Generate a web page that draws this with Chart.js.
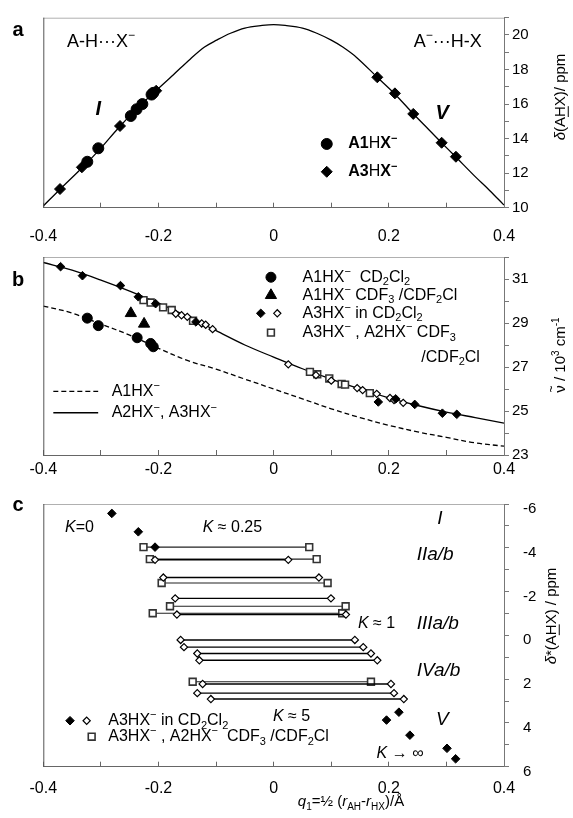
<!DOCTYPE html>
<html>
<head>
<meta charset="utf-8">
<script src="https://cdn.jsdelivr.net/npm/chart.js@4.4.1/dist/chart.umd.min.js"></script>
<style>
  body { margin: 0; background: #fff; width: 573px; height: 818px; position: relative; overflow: hidden; }
  canvas { position: absolute; left: 0; }
</style>
</head>
<body>
<canvas id="pa" width="573" height="250" style="top:0px"></canvas>
<canvas id="pb" width="573" height="235" style="top:245px"></canvas>
<canvas id="pc" width="573" height="338" style="top:480px"></canvas>
<script>
// ---- panel a : delta(AHX) vs q1 ----
const aCurveQ = [-0.4, -0.37, -0.33, -0.3, -0.27, -0.24, -0.21, -0.174, -0.145, -0.12, -0.099, -0.075, -0.05, -0.02, 0, 0.02, 0.05, 0.075, 0.1, 0.12, 0.144, 0.18, 0.21, 0.242, 0.27, 0.292, 0.316, 0.35, 0.375, 0.4];
const aCurveD = [10.1, 11.1, 12.4, 13.45, 14.6, 15.65, 16.6, 17.7, 18.6, 19.3, 19.7, 20.1, 20.4, 20.55, 20.6, 20.55, 20.4, 20.1, 19.7, 19.3, 18.7, 17.55, 16.6, 15.45, 14.5, 13.75, 12.95, 11.8, 11.0, 10.15];
const aA1Q = [-0.3236, -0.3045, -0.248, -0.238, -0.228, -0.212, -0.209];
const aA1D = [12.66, 13.44, 15.31, 15.70, 16.0, 16.55, 16.65];
const aA3Q = [-0.371, -0.333, -0.2668, -0.204, 0.180, 0.2106, 0.2424, 0.2917, 0.3165];
const aA3D = [11.08, 12.34, 14.73, 16.77, 17.55, 16.62, 15.43, 13.76, 12.95];

// ---- panel b : wavenumber vs q1 ----
const bCurveQ = [-0.4, -0.35, -0.3, -0.25, -0.2, -0.15, -0.1, -0.05, 0, 0.05, 0.1, 0.15, 0.2, 0.25, 0.3, 0.35, 0.4];
const bSolidV = [31.75, 31.4, 30.95, 30.45, 29.9, 29.3, 28.65, 28.0, 27.45, 26.92, 26.45, 26.0, 25.6, 25.25, 24.95, 24.7, 24.45];
const bDashV = [29.77, 29.45, 28.95, 28.45, 27.85, 27.3, 26.9, 26.45, 26.0, 25.55, 25.1, 24.7, 24.35, 24.05, 23.8, 23.55, 23.4];
const bA1CdQ = [-0.3236, -0.3045, -0.237, -0.2136, -0.209];
const bA1CdV = [29.22, 28.88, 28.33, 28.07, 27.92];
const bA1FrQ = [-0.248, -0.225];
const bA1FrV = [29.44, 28.96];
const bA3FillQ = [-0.37, -0.332, -0.266, -0.235, -0.205, -0.135, 0.1817, 0.212, 0.245, 0.293, 0.318];
const bA3FillV = [31.56, 31.15, 30.70, 30.19, 29.88, 29.05, 25.41, 25.55, 25.30, 24.90, 24.85];
const bA3OpenQ = [-0.17, -0.16, -0.15, -0.125, -0.118, -0.106, 0.0254, 0.0735, 0.1, 0.145, 0.1545, 0.179, 0.202, 0.209, 0.225];
const bA3OpenV = [29.42, 29.35, 29.28, 28.98, 28.92, 28.72, 27.12, 26.63, 26.38, 26.04, 25.95, 25.78, 25.59, 25.50, 25.37];
const bSqQ = [-0.226, -0.2136, -0.192, -0.177, -0.14, 0.063, 0.0757, 0.0966, 0.118, 0.124, 0.167];
const bSqV = [30.04, 29.93, 29.71, 29.59, 29.10, 26.78, 26.67, 26.48, 26.23, 26.20, 25.81];

// ---- panel c : delta*(AHX) vs q1 ----
const cFillQ = [-0.281, -0.235, -0.206, 0.196, 0.2175, 0.2366, 0.301, 0.316];
const cFillD = [-5.57, -4.73, -4.03, 3.87, 3.51, 4.56, 5.16, 5.64];
const cDiaLeft = [-0.206, -0.1916, -0.171, -0.168, -0.1615, -0.1557, -0.1326, -0.129, -0.1233, -0.1326, -0.109];
const cDiaRight = [0.0254, 0.0786, 0.0995, 0.1255, 0.141, 0.1556, 0.169, 0.18, 0.2037, 0.209, 0.226];
const cDiaShift = [-3.45, -2.64, -1.69, -0.95, 0.21, 0.54, 0.83, 1.14, 2.22, 2.64, 2.91];
const cSqLeft = [-0.226, -0.215, -0.1945, -0.18, -0.21, -0.1406];
const cSqRight = [0.0618, 0.0747, 0.0937, 0.125, 0.119, 0.169];
const cSqShift = [-4.03, -3.48, -2.39, -1.33, -1.01, 2.12];

const F = '"Liberation Sans", Arial, Helvetica, sans-serif';
const pts = (xs, ys) => xs.map((x, i) => ({x: x, y: ys[i]}));

// tiny rich-text: <i> <b> <u>, _{sub}, ^{sup}, ~{tilde over}
function parseRich(s) {
	const out = [];
	const st = {i: false, b: false, u: false};
	s.split(/(<\/?[ibu]>|_\{[^}]*\}|\^\{[^}]*\}|~\{[^}]*\})/).forEach(tok => {
		if (!tok) return;
		if (/^<[ibu]>$/.test(tok)) { st[tok[1]] = true; return; }
		if (/^<\/[ibu]>$/.test(tok)) { st[tok[2]] = false; return; }
		let pos = '';
		let t = tok;
		if (tok.startsWith('_{')) { pos = 'sub'; t = tok.slice(2, -1); }
		else if (tok.startsWith('^{')) { pos = 'sup'; t = tok.slice(2, -1); }
		else if (tok.startsWith('~{')) { pos = 'tilde'; t = tok.slice(2, -1); }
		out.push({t: t, pos: pos, i: st.i, b: st.b, u: st.u});
	});
	return out;
}

function drawRich(ctx, s, x, y, size, align) {
	const parts = parseRich(s);
	const small = p => p.pos === 'sub' || p.pos === 'sup';
	const fontOf = p => (p.i ? 'italic ' : '') + (p.b ? 'bold ' : '') + (small(p) ? Math.round(size * 0.68) : size) + 'px ' + F;
	let w = 0;
	parts.forEach(p => { ctx.font = fontOf(p); p.w = ctx.measureText(p.t).width; w += p.w; });
	let cx = align === 'center' ? x - w / 2 : (align === 'right' ? x - w : x);
	ctx.textAlign = 'left';
	ctx.textBaseline = 'middle';
	ctx.fillStyle = '#000';
	parts.forEach(p => {
		ctx.font = fontOf(p);
		const dy = p.pos === 'sub' ? size * 0.32 : (p.pos === 'sup' ? -size * 0.33 : 0);
		ctx.fillText(p.t, cx, y + dy);
		if (p.u) {
			ctx.fillRect(cx, y + size * 0.45, p.w, 1);
		}
		if (p.pos === 'tilde') {
			ctx.font = Math.round(size * 0.8) + 'px ' + F;
			ctx.textAlign = 'center';
			ctx.fillText('~', cx + p.w / 2, y - size * 0.62);
			ctx.textAlign = 'left';
		}
		cx += p.w;
	});
}

function drawVertical(ctx, s, x, y, size) {
	ctx.save();
	ctx.translate(x, y);
	ctx.rotate(-Math.PI / 2);
	drawRich(ctx, s, 0, 0, size, 'center');
	ctx.restore();
}

function symbol(ctx, style, r, x, y, fill, stroke, bw) {
	ctx.fillStyle = fill;
	ctx.strokeStyle = stroke;
	ctx.lineWidth = bw;
	Chart.helpers.drawPoint(ctx, {pointStyle: style, radius: r, rotation: 0, borderWidth: bw}, x, y);
}

const filled = (style, r) => ({pointStyle: style, pointRadius: r, pointBackgroundColor: '#000', pointBorderColor: '#000', pointBorderWidth: 1, showLine: false});
const openDia = r => ({pointStyle: 'rectRot', pointRadius: r, pointBackgroundColor: '#fff', pointBorderColor: '#000', pointBorderWidth: 1.2, showLine: false});
const openSq = r => ({pointStyle: 'rect', pointRadius: r, pointBackgroundColor: '#fff', pointBorderColor: '#333', pointBorderWidth: 1.6, showLine: false});
const curve = (dash) => ({showLine: true, pointRadius: 0, borderColor: '#000', borderWidth: 1.3, borderDash: dash || [], tension: 0.35, fill: false});

function frame(chart) {
	const ctx = chart.ctx, a = chart.chartArea;
	ctx.save();
	ctx.lineWidth = 1;
	ctx.strokeStyle = '#b0b0b0';
	ctx.beginPath(); ctx.moveTo(a.left, a.top + 0.5); ctx.lineTo(a.right, a.top + 0.5); ctx.stroke();
	ctx.strokeStyle = '#555';
	ctx.beginPath(); ctx.moveTo(a.left + 0.5, a.top); ctx.lineTo(a.left + 0.5, a.bottom); ctx.stroke();
	ctx.restore();
}

function options(cfg) {
	return {
		responsive: false,
		animation: false,
		devicePixelRatio: 1,
		layout: {padding: {left: 43.3, top: cfg.padTop, right: 0, bottom: 0}},
		plugins: {legend: {display: false}, tooltip: {enabled: false}},
		scales: {
			x: {
				type: 'linear', position: 'bottom', min: -0.4, max: 0.4,
				afterFit: s => { s.height = cfg.xH; },
				border: {color: '#666', width: 1},
				grid: {drawOnChartArea: false, tickLength: -5, color: '#666'},
				ticks: {
					stepSize: 0.1, autoSkip: false, maxRotation: 0, padding: cfg.xPad, color: '#000',
					font: {family: F, size: 16},
					callback: v => (Math.abs(Math.round(v * 10)) % 2 === 0 ? String(Math.round(v * 10) / 10) : '')
				}
			},
			y: {
				type: 'linear', position: 'right', min: cfg.ymin, max: cfg.ymax, reverse: !!cfg.reverse,
				afterFit: s => { s.width = 573 - 504; },
				border: {color: '#777', width: 1},
				grid: {drawOnChartArea: false, tickLength: 5, color: '#777'},
				ticks: {
					stepSize: 1, autoSkip: false, padding: cfg.yPad, color: '#000',
					font: {family: F, size: 15, lineHeight: cfg.yDrop ? cfg.yDrop * 2 / 15 : 1.2},
					callback: v => (cfg.showY(v) ? (cfg.yDrop ? ['', String(v)] : String(v)) : '')
				}
			}
		}
	};
}

// panel a
new Chart(document.getElementById('pa'), {
	type: 'scatter',
	data: {datasets: [
		Object.assign({data: pts(aA1Q, aA1D)}, filled('circle', 5.5)),
		Object.assign({data: pts(aA3Q, aA3D)}, filled('rectRot', 5.5)),
		Object.assign({data: pts(aCurveQ, aCurveD)}, curve())
	]},
	options: options({padTop: 17.7, xH: 42.3, xPad: 24, yPad: 3, ymin: 10, ymax: 21, showY: v => v % 2 === 0}),
	plugins: [{id: 'notesA', afterDraw(chart) {
		const ctx = chart.ctx, x = chart.scales.x, y = chart.scales.y;
		frame(chart);
		ctx.save();
		drawRich(ctx, 'A-H···X^{−}', x.getPixelForValue(-0.359), y.getPixelForValue(19.61), 18, 'left');
		drawRich(ctx, 'A^{−}···H-X', x.getPixelForValue(0.3615), y.getPixelForValue(19.61), 18, 'right');
		drawRich(ctx, '<b><i>I</i></b>', x.getPixelForValue(-0.3045), y.getPixelForValue(15.66), 20, 'center');
		drawRich(ctx, '<b><i>V</i></b>', x.getPixelForValue(0.2927), y.getPixelForValue(15.47), 20, 'center');
		symbol(ctx, 'circle', 5.5, x.getPixelForValue(0.0922), y.getPixelForValue(13.69), '#000', '#000', 1);
		symbol(ctx, 'rectRot', 5.5, x.getPixelForValue(0.0922), y.getPixelForValue(12.08), '#000', '#000', 1);
		drawRich(ctx, '<b>A1</b>H<b>X^{−}</b>', x.getPixelForValue(0.1295), y.getPixelForValue(13.69), 16, 'left');
		drawRich(ctx, '<b>A3</b>H<b>X^{−}</b>', x.getPixelForValue(0.1295), y.getPixelForValue(12.08), 16, 'left');
		drawRich(ctx, '<b>a</b>', 18, 30, 20, 'center');
		drawVertical(ctx, '<i>δ</i>(A<u>H</u>X)/ ppm', 561, 97, 15);
		ctx.restore();
	}}]
});

// panel b
new Chart(document.getElementById('pb'), {
	type: 'scatter',
	data: {datasets: [
		Object.assign({data: pts(bA1CdQ, bA1CdV)}, filled('circle', 5)),
		Object.assign({data: pts(bA1FrQ, bA1FrV)}, filled('triangle', 6.5)),
		Object.assign({data: pts(bA3FillQ, bA3FillV)}, filled('rectRot', 4.3)),
		Object.assign({data: pts(bA3OpenQ, bA3OpenV)}, openDia(3.6)),
		Object.assign({data: pts(bSqQ, bSqV)}, openSq(4.8)),
		Object.assign({data: pts(bCurveQ, bSolidV)}, curve()),
		Object.assign({data: pts(bCurveQ, bDashV)}, curve([5, 3]))
	]},
	options: options({padTop: 7.5, xH: 25, xPad: 10, yPad: 3, ymin: 23, ymax: 32, showY: v => v % 2 === 1}),
	plugins: [{id: 'notesB', afterDraw(chart) {
		const ctx = chart.ctx, x = chart.scales.x, y = chart.scales.y;
		frame(chart);
		ctx.save();
		const sx = x.getPixelForValue(-0.0047), tx = x.getPixelForValue(0.0503);
		symbol(ctx, 'circle', 5, sx, y.getPixelForValue(31.08), '#000', '#000', 1);
		symbol(ctx, 'triangle', 6.5, sx, y.getPixelForValue(30.26), '#000', '#000', 1);
		symbol(ctx, 'rectRot', 4.3, x.getPixelForValue(-0.0224), y.getPixelForValue(29.44), '#000', '#000', 1);
		symbol(ctx, 'rectRot', 3.6, x.getPixelForValue(0.0063), y.getPixelForValue(29.44), '#fff', '#000', 1.2);
		symbol(ctx, 'rect', 4.8, sx, y.getPixelForValue(28.56), '#fff', '#333', 1.6);
		drawRich(ctx, 'A1HX^{−}  CD_{2}Cl_{2}', tx, y.getPixelForValue(31.08), 16, 'left');
		drawRich(ctx, 'A1HX^{−} CDF_{3} /CDF_{2}Cl', tx, y.getPixelForValue(30.26), 16, 'left');
		drawRich(ctx, 'A3HX^{−} in CD_{2}Cl_{2}', tx, y.getPixelForValue(29.44), 16, 'left');
		drawRich(ctx, 'A3HX^{−} , A2HX^{−} CDF_{3}', tx, y.getPixelForValue(28.56), 16, 'left');
		drawRich(ctx, '/CDF_{2}Cl', x.getPixelForValue(0.3582), y.getPixelForValue(27.44), 16, 'right');
		// line legend
		ctx.strokeStyle = '#000';
		ctx.lineWidth = 1.3;
		ctx.setLineDash([5, 3]);
		ctx.beginPath();
		ctx.moveTo(x.getPixelForValue(-0.3826), y.getPixelForValue(25.89));
		ctx.lineTo(x.getPixelForValue(-0.3047), y.getPixelForValue(25.89));
		ctx.stroke();
		ctx.setLineDash([]);
		ctx.beginPath();
		ctx.moveTo(x.getPixelForValue(-0.3826), y.getPixelForValue(24.92));
		ctx.lineTo(x.getPixelForValue(-0.3047), y.getPixelForValue(24.92));
		ctx.stroke();
		drawRich(ctx, 'A1HX^{−}', x.getPixelForValue(-0.2813), y.getPixelForValue(25.89), 16, 'left');
		drawRich(ctx, 'A2HX^{−}, A3HX^{−}', x.getPixelForValue(-0.2813), y.getPixelForValue(24.92), 16, 'left');
		drawRich(ctx, '<b>b</b>', 18, 35, 20, 'center');
		drawVertical(ctx, '~{ν} / 10^{3} cm^{-1}', 561, 110, 15);
		ctx.restore();
	}}]
});

// panel c
const cRows = [];
cDiaLeft.forEach((q, i) => {
	cRows.push(Object.assign({data: pts([q, cDiaRight[i]], [cDiaShift[i], cDiaShift[i]])}, openDia(3.6), {showLine: true, borderColor: '#000', borderWidth: 1.4}));
});
cSqLeft.forEach((q, i) => {
	cRows.push(Object.assign({data: pts([q, cSqRight[i]], [cSqShift[i], cSqShift[i]])}, openSq(4.8), {showLine: true, borderColor: '#222', borderWidth: 1.1}));
});
new Chart(document.getElementById('pc'), {
	type: 'scatter',
	data: {datasets: [Object.assign({data: pts(cFillQ, cFillD)}, filled('rectRot', 4.3))].concat(cRows)},
	options: options({padTop: 8.3, xH: 51.3, xPad: 17, yPad: 14, yDrop: 5, ymin: -6, ymax: 6, reverse: true, showY: v => v % 2 === 0}),
	plugins: [{id: 'notesC', afterDraw(chart) {
		const ctx = chart.ctx, x = chart.scales.x, y = chart.scales.y;
		frame(chart);
		ctx.save();
		const X = v => x.getPixelForValue(v), Y = v => y.getPixelForValue(v);
		drawRich(ctx, '<i>K</i>=0', X(-0.3623), Y(-4.92), 16, 'left');
		drawRich(ctx, '<i>K</i> ≈ 0.25', X(-0.1233), Y(-4.92), 16, 'left');
		drawRich(ctx, '<i>I</i>', X(0.2887), Y(-5.35), 19, 'center');
		drawRich(ctx, '<i>IIa/b</i>', X(0.2483), Y(-3.70), 19, 'left');
		drawRich(ctx, '<i>K</i> ≈ 1', X(0.1464), Y(-0.54), 16, 'left');
		drawRich(ctx, '<i>IIIa/b</i>', X(0.2483), Y(-0.54), 19, 'left');
		drawRich(ctx, '<i>IVa/b</i>', X(0.2483), Y(1.62), 19, 'left');
		drawRich(ctx, '<i>K</i> ≈ 5', X(-0.0012), Y(3.70), 16, 'left');
		drawRich(ctx, '<i>V</i>', X(0.293), Y(3.87), 19, 'center');
		drawRich(ctx, '<i>K</i> → ∞', X(0.1788), Y(5.42), 16, 'left');
		symbol(ctx, 'rectRot', 4.3, X(-0.3536), Y(3.90), '#000', '#000', 1);
		symbol(ctx, 'rectRot', 3.6, X(-0.3247), Y(3.90), '#fff', '#000', 1.2);
		symbol(ctx, 'rect', 4.8, X(-0.316), Y(4.63), '#fff', '#333', 1.6);
		drawRich(ctx, 'A3HX^{−} in CD_{2}Cl_{2}', X(-0.2872), Y(3.90), 16, 'left');
		drawRich(ctx, 'A3HX^{−} , A2HX^{−}  CDF_{3} /CDF_{2}Cl', X(-0.2872), Y(4.63), 16, 'left');
		drawRich(ctx, '<b>c</b>', 18, 25, 20, 'center');
		drawVertical(ctx, '<i>δ</i>*(A<u>H</u>X) / ppm', 552, 136, 15);
		drawRich(ctx, '<i>q</i>_{1}=½ (<i>r</i>_{AH}-<i>r</i>_{HX})/Å', 351, 322, 15, 'center');
		ctx.restore();
	}}]
});
</script>
</body>
</html>
